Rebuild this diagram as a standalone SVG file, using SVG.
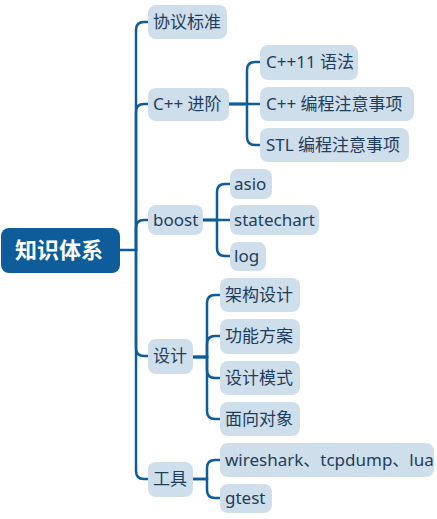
<svg xmlns="http://www.w3.org/2000/svg" width="437" height="519" viewBox="0 0 437 519">
<style>
.n rect{fill:#cfdeeb}
.n text{fill:#1f3d5c;font-family:"Noto Sans","Noto Sans CJK SC",sans-serif;font-size:17px}
.root rect{fill:#0e5c99}
.root text{fill:#ffffff;font-family:"Noto Sans","Noto Sans CJK SC",sans-serif;font-size:22px;font-weight:bold}
.c path{fill:none;stroke:#0e5c99;stroke-width:2.5;stroke-linecap:round}
</style>
<rect width="437" height="519" fill="#ffffff"/>
<g class="c" id="connectors">
<path d="M120 250 H136 V30 Q136 22 144 22 H148"/>
<path d="M136 250 V112 Q136 104 144 104 H148"/>
<path d="M136 250 V228 Q136 220 144 220 H148"/>
<path d="M136 250 V348 Q136 356 144 356 H148"/>
<path d="M136 250 V471 Q136 479 144 479 H148"/>
<path d="M229 104 H260"/>
<path d="M229 104 H247 V70 Q247 62 255 62 H260"/>
<path d="M229 104 H247 V137 Q247 145 255 145 H260"/>
<path d="M203 220 H230"/>
<path d="M203 220 H217 V192 Q217 184 225 184 H230"/>
<path d="M203 220 H217 V248 Q217 256 225 256 H230"/>
<path d="M193 357 H207 V303 Q207 295 215 295 H220"/>
<path d="M193 357 H207 V344 Q207 336 215 336 H220"/>
<path d="M193 357 H207 V370 Q207 378 215 378 H220"/>
<path d="M193 357 H207 V411 Q207 419 215 419 H220"/>
<path d="M193 479 H207 V468 Q207 460 215 460 H220"/>
<path d="M193 479 H207 V490 Q207 498 215 498 H220"/>
</g>
<g class="root" id="n-root"><rect x="1" y="228" width="119" height="45" rx="8"/><text x="15" y="258">知识体系</text></g>
<g class="n" id="n-xieyi"><rect x="148" y="5" width="79" height="34" rx="8"/><text x="153" y="28">协议标准</text></g>
<g class="n" id="n-cpp"><rect x="148" y="88" width="81" height="33" rx="8"/><text x="153" y="110">C++ 进阶</text></g>
<g class="n" id="n-boost"><rect x="148" y="205" width="55" height="30" rx="8"/><text x="153" y="226">boost</text></g>
<g class="n" id="n-sheji"><rect x="148" y="339" width="45" height="35" rx="8"/><text x="153" y="362">设计</text></g>
<g class="n" id="n-gongju"><rect x="148" y="462" width="45" height="35" rx="8"/><text x="153" y="485">工具</text></g>
<g class="n" id="n-cpp11"><rect x="260" y="45" width="98" height="35" rx="8"/><text x="266" y="68">C++11 语法</text></g>
<g class="n" id="n-cppbc"><rect x="260" y="87" width="154" height="34" rx="8"/><text x="266" y="110">C++ 编程注意事项</text></g>
<g class="n" id="n-stl"><rect x="260" y="128" width="149" height="34" rx="8"/><text x="266" y="151">STL 编程注意事项</text></g>
<g class="n" id="n-asio"><rect x="230" y="169" width="42" height="30" rx="8"/><text x="234" y="190">asio</text></g>
<g class="n" id="n-sc"><rect x="230" y="205" width="89" height="30" rx="8"/><text x="234" y="226">statechart</text></g>
<g class="n" id="n-log"><rect x="230" y="242" width="36" height="29" rx="8"/><text x="234" y="262">log</text></g>
<g class="n" id="n-jg"><rect x="220" y="278" width="80" height="34" rx="8"/><text x="225" y="301">架构设计</text></g>
<g class="n" id="n-gn"><rect x="220" y="319" width="80" height="35" rx="8"/><text x="225" y="342">功能方案</text></g>
<g class="n" id="n-ms"><rect x="220" y="361" width="80" height="34" rx="8"/><text x="225" y="384">设计模式</text></g>
<g class="n" id="n-mx"><rect x="220" y="402" width="80" height="34" rx="8"/><text x="225" y="425">面向对象</text></g>
<g class="n" id="n-ws"><rect x="220" y="443" width="214" height="34" rx="8"/><text x="225" y="466">wireshark、tcpdump、lua</text></g>
<g class="n" id="n-gt"><rect x="220" y="484" width="52" height="29" rx="8"/><text x="225" y="504">gtest</text></g>
</svg>
